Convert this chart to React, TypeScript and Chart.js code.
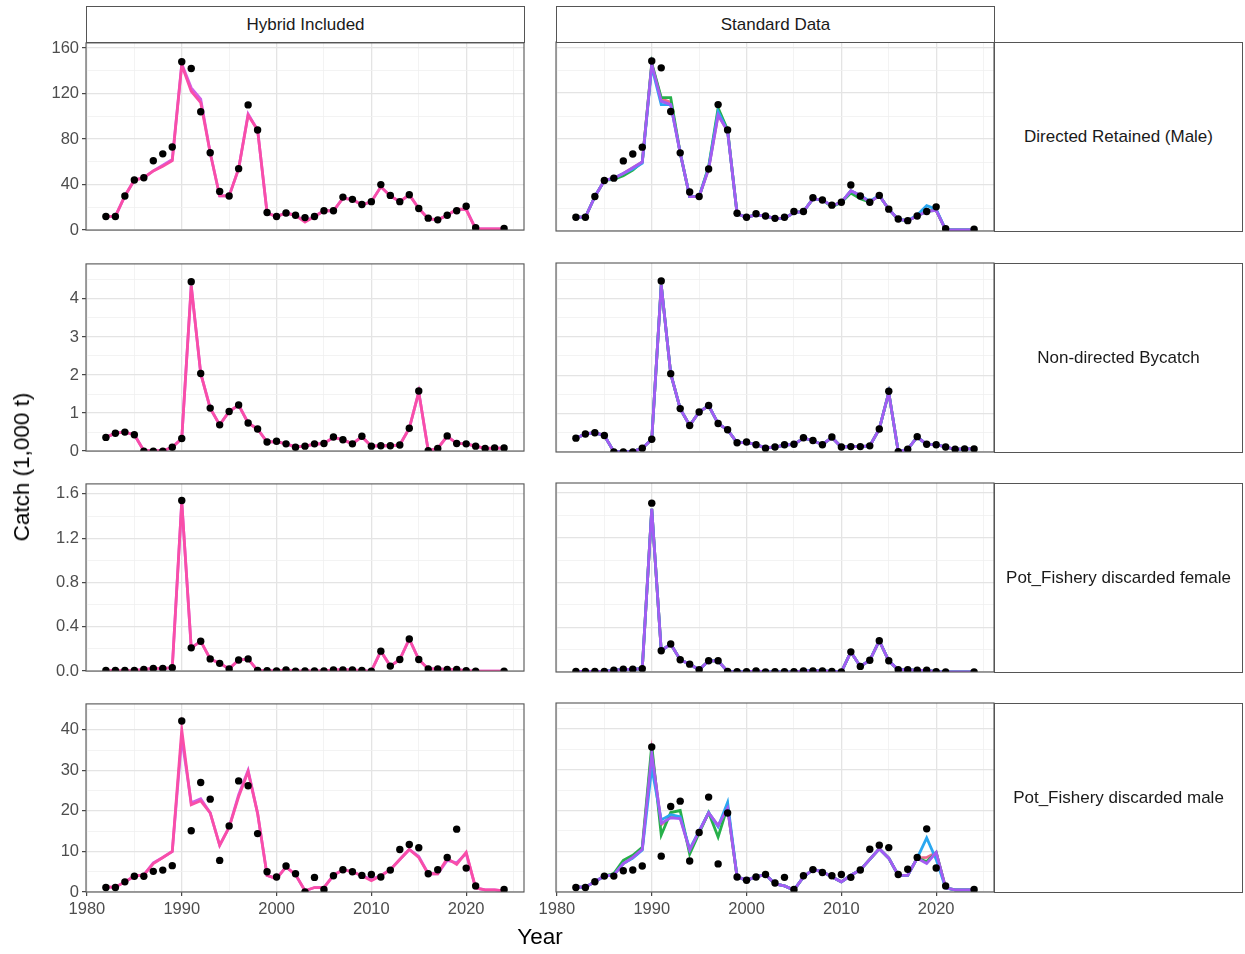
import React, { useEffect, useRef } from "react";
import { Chart, registerables } from "chart.js";
Chart.register(...registerables);

// ---------------- data ----------------
const years = [
  1982, 1983, 1984, 1985, 1986, 1987, 1988, 1989,
  1990, 1991, 1992, 1993, 1994, 1995, 1996, 1997, 1998, 1999,
  2000, 2001, 2002, 2003, 2004, 2005, 2006, 2007, 2008, 2009,
  2010, 2011, 2012, 2013, 2014, 2015, 2016, 2017, 2018, 2019,
  2020, 2021, 2022, 2023, 2024,
];

const columnLabels = ["Hybrid Included", "Standard Data"];
const rowLabels = [
  "Directed Retained (Male)",
  "Non-directed Bycatch",
  "Pot_Fishery discarded female",
  "Pot_Fishery discarded male",
];

const xMajorTicks = [1980, 1990, 2000, 2010, 2020];
const retTicks = [0, 40, 80, 120, 160];
const bycTicks = [0, 1, 2, 3, 4];
const femTicks = [0, 0.4, 0.8, 1.2, 1.6];
const maleTicks = [0, 10, 20, 30, 40];

// Directed Retained (Male)
const retObs = [12, 12, 30, 44, 46, 61, 67, 73,
  148, 142, 104, 68, 34, 30, 54, 110, 88, 15.5,
  12, 15, 13, 11, 12, 17, 17, 29, 27, 22.5,
  25, 40, 30.5, 25, 31, 19, 10.5, 9, 13, 17,
  21, 2, null, null, 1.5];
const retHybA = [12, 12, 30, 44, 46, 52, 56, 61,
  145, 122, 112, 68, 30, 30, 54, 101, 88, 15,
  12, 15, 13, 7, 12, 17, 17, 28, 27, 22,
  25, 38, 30, 25, 31, 19, 10, 9, 13, 18.5,
  18, 1, 1, 1, 1];
const retHybB = [12, 12, 30, 44, 46, 52, 57, 62,
  146, 125, 115, 68, 30, 30, 54, 102, 88, 15,
  12, 15, 13, 8, 12, 17, 17, 28, 27, 22,
  25, 38, 30, 25, 31, 19, 10, 9, 13, 18,
  18.5, 1, 1, 1, 1];
const retStdRed = [12, 12, 30, 44, 46, 50, 55, 60,
  145, 115, 112, 68, 30, 30, 54, 101, 87, 15,
  12, 14, 13, 11, 11, 16, 17, 28, 27, 22,
  25, 35, 31, 25, 31, 19, 10, 9, 13, 17.5,
  18, 1, 1, 1, 1];
const retStdGreen = [12, 12, 30, 44, 45, 48, 53, 60,
  146, 116, 116, 68, 30, 30, 56, 107, 88, 15,
  12, 14, 13, 11, 11, 16, 17, 28, 27, 21,
  25, 33, 28, 25, 31, 19, 10, 9, 13, 17,
  18, 1, 1, 1, 1];
const retStdBlue = [12, 12, 30, 44, 46, 50, 54, 59,
  143, 110, 110, 68, 30, 30, 55, 104, 87, 15,
  12, 14, 13, 11, 11, 16, 17, 28, 27, 22,
  25, 35, 31, 26, 31, 19, 10, 9, 14, 22,
  19, 1, 1, 1, 1];
const retStdPurple = [12, 12, 30, 44, 46, 50, 55, 60,
  145, 113, 110, 68, 30, 30, 54, 101, 87, 15,
  12, 14, 13, 11, 11, 16, 17, 28, 27, 22,
  25, 35, 31, 25, 31, 19, 10, 9, 13, 17,
  18, 1, 1, 1, 1];

// Non-directed Bycatch
const bycObs = [0.36, 0.47, 0.5, 0.43, 0.0, 0.0, 0.0, 0.1,
  0.33, 4.45, 2.04, 1.13, 0.69, 1.04, 1.21, 0.74, 0.58, 0.24,
  0.26, 0.19, 0.1, 0.13, 0.19, 0.2, 0.37, 0.3, 0.19, 0.39,
  0.13, 0.14, 0.14, 0.16, 0.6, 1.58, 0.01, 0.07, 0.4, 0.2,
  0.19, 0.13, 0.07, 0.08, 0.08];
const bycFit = [0.36, 0.47, 0.5, 0.43, 0.01, 0.01, 0.01, 0.1,
  0.33, 4.35, 2.04, 1.13, 0.69, 1.04, 1.21, 0.74, 0.58, 0.24,
  0.25, 0.19, 0.11, 0.13, 0.18, 0.2, 0.36, 0.3, 0.19, 0.38,
  0.13, 0.14, 0.14, 0.16, 0.6, 1.55, 0.01, 0.07, 0.39, 0.2,
  0.19, 0.13, 0.07, 0.08, 0.08];

// Pot_Fishery discarded female
const femObsHyb = [0.005, 0.005, 0.005, 0.005, 0.015, 0.024, 0.024, 0.03,
  1.54, 0.21, 0.27, 0.11, 0.07, 0.02, 0.1, 0.11, 0.005, 0.003,
  0.002, 0.01, 0, 0.002, 0.002, 0.002, 0.01, 0.01, 0.01, 0.005,
  0, 0.18, 0.045, 0.105, 0.29, 0.105, 0.02, 0.02, 0.015, 0.015,
  0.003, 0, null, null, 0];
const femObsStd = [0.005, 0.005, 0.005, 0.005, 0.015, 0.024, 0.024, 0.03,
  1.51, 0.19, 0.25, 0.11, 0.07, 0.02, 0.1, 0.1, 0.005, 0.003,
  0.002, 0.01, 0, 0.002, 0.002, 0.002, 0.01, 0.01, 0.01, 0.005,
  0, 0.18, 0.05, 0.105, 0.28, 0.1, 0.02, 0.02, 0.015, 0.015,
  0.003, 0, null, null, 0];
const femFitHyb = [0.005, 0.005, 0.005, 0.005, 0.015, 0.024, 0.024, 0.03,
  1.53, 0.21, 0.27, 0.11, 0.07, 0.02, 0.1, 0.11, 0.005, 0.003,
  0.002, 0.01, 0, 0.002, 0.002, 0.002, 0.01, 0.01, 0.01, 0.005,
  0, 0.18, 0.045, 0.105, 0.29, 0.105, 0.02, 0.02, 0.015, 0.015,
  0.003, 0, 0, 0, 0];
const femFitStd = [0.005, 0.005, 0.005, 0.005, 0.015, 0.024, 0.024, 0.03,
  1.46, 0.19, 0.25, 0.11, 0.07, 0.02, 0.1, 0.1, 0.005, 0.003,
  0.002, 0.01, 0, 0.002, 0.002, 0.002, 0.01, 0.01, 0.01, 0.005,
  0, 0.18, 0.05, 0.105, 0.28, 0.1, 0.02, 0.02, 0.015, 0.015,
  0.003, 0, 0, 0, 0];

// Pot_Fishery discarded male
const maleObsHyb = [1.1, 1.1, 2.5, 3.9, 3.9, 5.1, 5.4, 6.5,
  42.2, 15.1, 27, 22.9, 7.8, 16.3, 27.4, 26.2, 14.4, 5,
  3.7, 6.4, 4.5, 0, 3.6, 0.6, 4, 5.5, 5, 4.1,
  4.3, 3.7, 5.4, 10.5, 11.7, 10.9, 4.5, 5.5, 8.5, 15.5,
  5.9, 1.5, null, null, 0.6];
const maleHybA = [1.2, 1.2, 2.5, 3.9, 4.2, 7, 8.5, 10,
  40, 21.5, 22.5, 19.5, 11.5, 16, 23.5, 29.7, 19.4, 4.1,
  3.3, 6.2, 4.3, 0.3, 1.1, 1.1, 4.1, 5.5, 5, 4,
  2.8, 4, 5.5, 8, 10.5, 8.5, 4.5, 4.5, 8.3, 6.8,
  9.8, 1, 0.5, 0.5, 0.3];
const maleHybB = [1.2, 1.2, 2.5, 3.9, 4.2, 7.2, 8.5, 10,
  38, 22, 23, 19.5, 11.5, 16, 24, 30, 19.4, 4.1,
  3.3, 6.2, 4.3, 0.3, 1.1, 1.1, 4.1, 5.5, 5, 4,
  3.2, 4, 5.5, 8, 10.5, 8.8, 4.5, 4.5, 7.8, 7.2,
  9.5, 1, 0.5, 0.5, 0.3];
const maleObsStd = [1.1, 1.1, 2.5, 3.9, 3.9, 5.2, 5.4, 6.4,
  35.6, 8.8, 21, 22.3, 7.6, 14.6, 23.3, 6.9, 19.4, 3.7,
  2.9, 3.7, 4.3, 2.2, 3.6, 0.6, 4, 5.5, 4.8, 4,
  4.3, 3.6, 5.4, 10.5, 11.5, 10.9, 4.3, 5.6, 8.5, 15.5,
  5.9, 1.5, null, null, 0.6];
const maleStdRed = [1.2, 1.2, 2.5, 3.9, 4.2, 7, 8.5, 10.5,
  34.5, 16.5, 18.5, 18.3, 10.3, 14.9, 19.4, 16.3, 20.6, 3.7,
  2.9, 3.7, 4.3, 2, 1.5, 0.5, 3.7, 5.5, 5, 3.7,
  2.5, 4.1, 5.4, 8, 10.6, 8.3, 4.1, 4.1, 8.3, 8.5,
  9.7, 1, 0.5, 0.5, 0.5];
const maleStdGreen = [1.2, 1.2, 2.5, 3.9, 4.5, 7.8, 9, 11,
  36, 14, 19.5, 20, 9.3, 14.5, 19.5, 13.5, 21, 3.7,
  2.9, 3.7, 4.3, 2, 1.5, 0.5, 3.7, 5.5, 5, 3.7,
  2.5, 4.1, 5.4, 8, 10.6, 8.3, 4.1, 4.1, 8.3, 7.5,
  9.7, 1, 0.5, 0.5, 0.5];
const maleStdBlue = [1.2, 1.2, 2.5, 3.9, 4.2, 7, 8.3, 10.3,
  30.5, 17.7, 19, 18.5, 10.5, 15, 19.5, 16, 22, 3.7,
  2.9, 3.7, 4.3, 2, 1.5, 0.5, 3.7, 5.5, 5, 3.7,
  2.5, 4.1, 5.4, 8, 10.6, 8.3, 4.1, 4.1, 8.3, 13.3,
  8, 1, 0.5, 0.5, 0.5];
const maleStdPurple = [1.2, 1.2, 2.5, 3.9, 4.2, 7, 8.5, 10.5,
  34, 16.9, 18.2, 18, 10.3, 14.9, 19.4, 16.3, 20.6, 3.7,
  2.9, 3.7, 4.3, 2, 1.5, 0.5, 3.7, 5.5, 5, 3.7,
  2.5, 4.1, 5.4, 8, 10.6, 8.3, 4.1, 4.1, 8.3, 7,
  9.7, 1, 0.5, 0.5, 0.5];

// ---------------- styling / layout ----------------
const FONT = "'Liberation Sans', Arial, Helvetica, sans-serif";
const TICK_FONT = 16.5;
const STRIP_FONT = 17;
const TITLE_FONT = 22.5;
const HYB_A = "#F94EA8";
const HYB_B = "#D35FE6";
const STD_RED = "#EE6A8C";
const STD_GREEN = "#27B04A";
const STD_BLUE = "#2AA7F0";
const STD_PURPLE = "#A35CF2";

const COL_LEFT = [86, 556];
const COL_W = 438;
const ROW_TOP = [42, 263, 483, 703];
const ROW_H = 189;
const X_MIN = 1979.9;
const X_MAX = 2026.1;
const Y_MAX = [164.5, 4.92, 1.69, 46.4];
const TICK_DIGITS = [0, 0, 1, 0];

type Line = { values: (number | null)[]; color: string };
type PanelCfg = {
  row: number;
  col: number;
  obs: (number | null)[];
  lines: Line[]; // first = topmost
  ticks: number[];
};

const panels: PanelCfg[] = [
  { row: 0, col: 0, obs: retObs, ticks: retTicks,
    lines: [{ values: retHybA, color: HYB_A }, { values: retHybB, color: HYB_B }] },
  { row: 0, col: 1, obs: retObs, ticks: retTicks,
    lines: [{ values: retStdPurple, color: STD_PURPLE }, { values: retStdBlue, color: STD_BLUE },
            { values: retStdGreen, color: STD_GREEN }, { values: retStdRed, color: STD_RED }] },
  { row: 1, col: 0, obs: bycObs, ticks: bycTicks,
    lines: [{ values: bycFit, color: HYB_A }, { values: bycFit, color: HYB_B }] },
  { row: 1, col: 1, obs: bycObs, ticks: bycTicks,
    lines: [{ values: bycFit, color: STD_PURPLE }, { values: bycFit, color: STD_BLUE },
            { values: bycFit, color: STD_GREEN }, { values: bycFit, color: STD_RED }] },
  { row: 2, col: 0, obs: femObsHyb, ticks: femTicks,
    lines: [{ values: femFitHyb, color: HYB_A }, { values: femFitHyb, color: HYB_B }] },
  { row: 2, col: 1, obs: femObsStd, ticks: femTicks,
    lines: [{ values: femFitStd, color: STD_PURPLE }, { values: femFitStd, color: STD_BLUE },
            { values: femFitStd, color: STD_GREEN }, { values: femFitStd, color: STD_RED }] },
  { row: 3, col: 0, obs: maleObsHyb, ticks: maleTicks,
    lines: [{ values: maleHybA, color: HYB_A }, { values: maleHybB, color: HYB_B }] },
  { row: 3, col: 1, obs: maleObsStd, ticks: maleTicks,
    lines: [{ values: maleStdPurple, color: STD_PURPLE }, { values: maleStdBlue, color: STD_BLUE },
            { values: maleStdGreen, color: STD_GREEN }, { values: maleStdRed, color: STD_RED }] },
];

const borderPlugin = {
  id: "panelBorder",
  afterDraw(chart: any) {
    const { ctx, chartArea: a } = chart;
    ctx.save();
    ctx.strokeStyle = "#555555";
    ctx.lineWidth = 1.1;
    ctx.strokeRect(a.left, a.top, a.right - a.left, a.bottom - a.top);
    ctx.restore();
  },
};

function toPoints(vals: (number | null)[]) {
  return years.map((yr, i) => ({ x: yr, y: vals[i] }));
}

function Panel({ cfg }: { cfg: PanelCfg }) {
  const ref = useRef<HTMLCanvasElement>(null);
  const isLeft = cfg.col === 0;
  const isBottom = cfg.row === 3;
  const mL = isLeft ? 86 : 30;
  const mT = 12;
  const mR = 20;
  const mB = isBottom ? 46 : 12;
  const cw = mL + COL_W + mR;
  const ch = mT + ROW_H + mB;
  const left = COL_LEFT[cfg.col] - mL;
  const top = ROW_TOP[cfg.row] - mT;

  useEffect(() => {
    const yMax = Y_MAX[cfg.row];
    const majors = cfg.ticks;
    const step = majors[1] - majors[0];
    const minors: number[] = [];
    for (let i = 0; i < majors.length; i++) {
      const m = majors[i] + step / 2;
      if (m <= yMax) minors.push(+m.toFixed(4));
    }
    const yTickObjs = [
      ...majors.map((v) => ({ value: v, isMajor: true })),
      ...minors.map((v) => ({ value: v, isMajor: false })),
    ].sort((a, b) => a.value - b.value);
    const xTickObjs = [1980, 1985, 1990, 1995, 2000, 2005, 2010, 2015, 2020, 2025].map((v) => ({
      value: v,
      isMajor: xMajorTicks.includes(v),
    }));

    const gridColor = (c: any) => (c.tick && c.tick.isMajor ? "#E4E4E4" : "#F0F0F0");
    const gridWidth = (c: any) => (c.tick && c.tick.isMajor ? 1.3 : 0.8);
    const tickColor = (c: any) => (c.tick && c.tick.isMajor ? "#333333" : "rgba(0,0,0,0)");

    const datasets: any[] = [
      {
        type: "line",
        data: toPoints(cfg.obs),
        showLine: false,
        pointRadius: 3.7,
        pointHoverRadius: 3.7,
        pointBackgroundColor: "#000000",
        pointBorderWidth: 0,
        borderColor: "#000000",
        order: 0,
        clip: 0,
      },
      ...cfg.lines.map((l, i) => ({
        type: "line",
        data: toPoints(l.values),
        borderColor: l.color,
        borderWidth: 2.8,
        pointRadius: 0,
        tension: 0,
        spanGaps: true,
        fill: false,
        order: i + 1,
        clip: 0,
      })),
    ];

    const chart = new Chart(ref.current as HTMLCanvasElement, {
      type: "line",
      data: { datasets },
      plugins: [borderPlugin],
      options: {
        animation: false,
        responsive: false,
        devicePixelRatio: 1,
        layout: {
          autoPadding: false,
          padding: { top: mT, right: mR, bottom: isBottom ? 0 : mB, left: 0 },
        },
        plugins: { legend: { display: false }, tooltip: { enabled: false } },
        events: [],
        scales: {
          x: {
            type: "linear",
            min: X_MIN,
            max: X_MAX,
            afterBuildTicks: (s: any) => {
              s.ticks = xTickObjs.map((t) => ({ ...t }));
            },
            afterFit: (s: any) => {
              s.height = isBottom ? mB : 0;
            },
            border: { display: false },
            grid: {
              color: gridColor,
              lineWidth: gridWidth,
              drawTicks: isBottom,
              tickLength: 4,
              tickColor,
              tickWidth: 1.1,
            },
            ticks: {
              display: isBottom,
              autoSkip: false,
              maxRotation: 0,
              padding: 4,
              color: "#4D4D4D",
              font: { family: FONT, size: TICK_FONT },
              callback: (v: any) => (xMajorTicks.includes(v) ? String(v) : ""),
            },
          },
          y: {
            type: "linear",
            min: 0,
            max: yMax,
            afterBuildTicks: (s: any) => {
              s.ticks = yTickObjs.map((t) => ({ ...t }));
            },
            afterFit: (s: any) => {
              s.width = mL;
            },
            border: { display: false },
            grid: {
              color: gridColor,
              lineWidth: gridWidth,
              drawTicks: isLeft,
              tickLength: 4,
              tickColor,
              tickWidth: 1.1,
            },
            ticks: {
              display: isLeft,
              autoSkip: false,
              padding: 3,
              color: "#4D4D4D",
              font: { family: FONT, size: TICK_FONT },
              callback: (v: any) =>
                majors.includes(v) ? Number(v).toFixed(TICK_DIGITS[cfg.row]) : "",
            },
          },
        },
      } as any,
    });
    return () => chart.destroy();
  }, []);

  return (
    <div style={{ position: "absolute", left, top, width: cw, height: ch }}>
      <canvas ref={ref} width={cw} height={ch} style={{ width: cw, height: ch, display: "block" }} />
    </div>
  );
}

const stripStyle: React.CSSProperties = {
  position: "absolute",
  boxSizing: "border-box",
  border: "1.1px solid #555555",
  background: "#FFFFFF",
  display: "flex",
  alignItems: "center",
  justifyContent: "center",
  fontFamily: FONT,
  fontSize: STRIP_FONT,
  color: "#1A1A1A",
  whiteSpace: "nowrap",
};

export default function App() {
  return (
    <div
      style={{
        position: "absolute",
        left: 0,
        top: 0,
        width: 1245,
        height: 954,
        background: "#FFFFFF",
        overflow: "hidden",
      }}
    >
      {panels.map((p, i) => (
        <Panel key={i} cfg={p} />
      ))}
      {columnLabels.map((lab, c) => (
        <div
          key={"c" + c}
          style={{ ...stripStyle, left: COL_LEFT[c], top: 6, width: COL_W + 1, height: 37 }}
        >
          {lab}
        </div>
      ))}
      {rowLabels.map((lab, r) => (
        <div
          key={"r" + r}
          style={{ ...stripStyle, left: COL_LEFT[1] + COL_W, top: ROW_TOP[r], width: 249, height: ROW_H + 1 }}
        >
          {lab}
        </div>
      ))}
      <div
        style={{
          position: "absolute",
          left: 22,
          top: 467,
          transform: "translate(-50%, -50%) rotate(-90deg)",
          fontFamily: FONT,
          fontSize: TITLE_FONT,
          color: "#000000",
          whiteSpace: "nowrap",
        }}
      >
        Catch (1,000 t)
      </div>
      <div
        style={{
          position: "absolute",
          left: 540,
          top: 937,
          transform: "translate(-50%, -50%)",
          fontFamily: FONT,
          fontSize: TITLE_FONT,
          color: "#000000",
          whiteSpace: "nowrap",
        }}
      >
        Year
      </div>
    </div>
  );
}
